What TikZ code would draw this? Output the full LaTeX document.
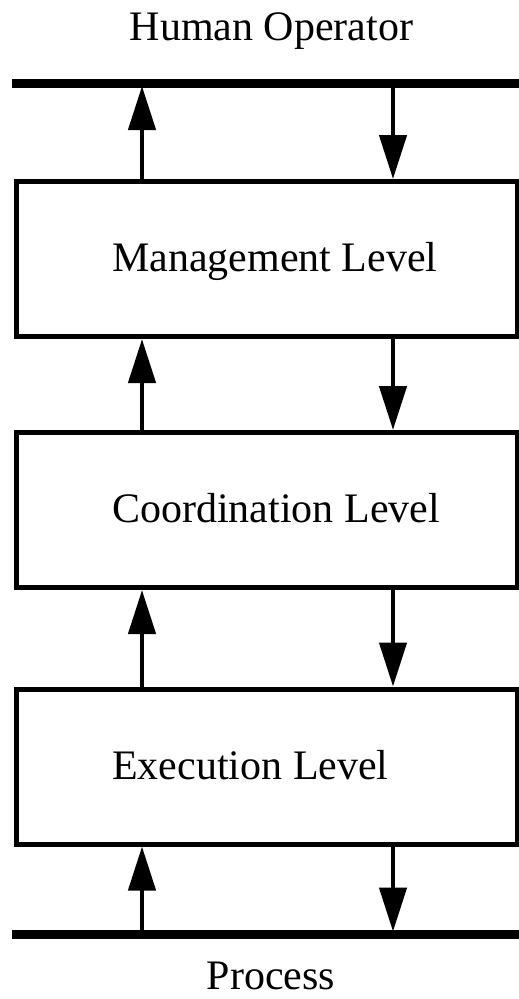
\documentclass[tikz,border=0pt]{standalone}
\usepackage{fontspec}
\setmainfont{Liberation Serif}
\usetikzlibrary{arrows.meta, positioning, calc}

\begin{document}
\begin{tikzpicture}[x=1pt, y=-1pt,
		level/.style={draw, line width=5pt, minimum width=500.5pt, minimum height=155pt, inner sep=0pt, outer sep=0pt},
		lvltext/.style={anchor=base west, inner sep=0pt, font=\fontsize{42}{50}\selectfont},
		endtext/.style={anchor=base, inner sep=0pt, font=\fontsize{42}{50}\selectfont},
		bar/.style={line width=9pt},
		flow/.style={line width=4.5pt, shorten >=2.5pt, -{Triangle[length=44pt, width=27pt]}}]
			\useasboundingbox (0,0) rectangle (519,999);

			% Operador y proceso
			\node[endtext] (operator) at (271.5,40.7) {Human Operator};
			\node[endtext] (process) at (271,989) {Process};

			\coordinate (topL) at (12,83.5);
			\coordinate (topR) at (530,83.5);
			\coordinate (botL) at (12,934);
			\coordinate (botR) at (530,934);
			\draw[bar] (topL) -- (topR);
			\draw[bar] (botL) -- (botR);

			% Niveles
			\node[level] (mgmt) at (266.75,259) {};
			\node[level] (coord) at (266.75,510) {};
			\node[level] (exec) at (266.75,766.5) {};

			\node[lvltext] (mgmtlabel) at ([xshift=95.5pt, yshift=-12.5pt]mgmt.west) {Management Level};
			\node[lvltext] (coordlabel) at ([xshift=95.5pt, yshift=-12.5pt]coord.west) {Coordination Level};
			\node[lvltext] (execlabel) at ([xshift=95.5pt, yshift=-12.5pt]exec.west) {Execution Level};

			% Flechas
			\coordinate (upx) at (142,0);
			\coordinate (dnx) at (393,0);
			\draw[flow] (mgmt.north -| upx) -- (topL -| upx);
			\draw[flow] (topL -| dnx) -- (mgmt.north -| dnx);
			\draw[flow] (coord.north -| upx) -- (mgmt.south -| upx);
			\draw[flow] (mgmt.south -| dnx) -- (coord.north -| dnx);
			\draw[flow] (exec.north -| upx) -- (coord.south -| upx);
			\draw[flow] (coord.south -| dnx) -- (exec.north -| dnx);
			\draw[flow] (botL -| upx) -- (exec.south -| upx);
			\draw[flow] (exec.south -| dnx) -- (botL -| dnx);
		\end{tikzpicture}
\end{document}
